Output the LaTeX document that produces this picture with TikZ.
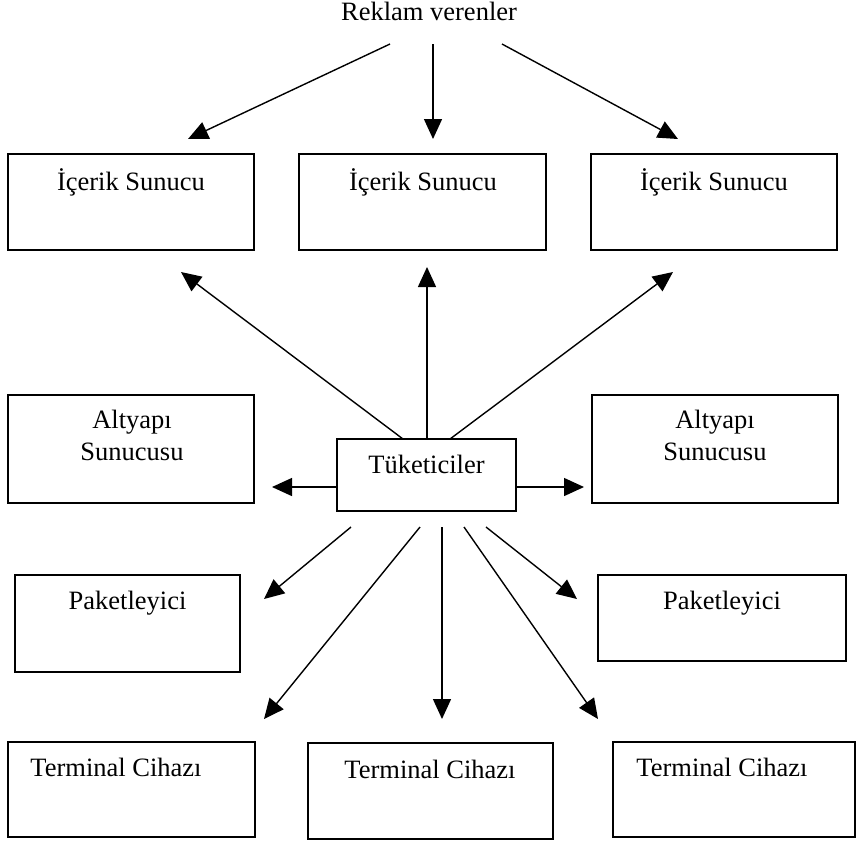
\documentclass[tikz,border=0pt]{standalone}
\usepackage{fontspec}
\setmainfont{Liberation Serif}
\usetikzlibrary{arrows.meta, positioning}

\begin{document}
\begin{tikzpicture}[x=0.5pt, y=-0.5pt,
    kutu/.style={draw, line width=1pt, inner sep=0pt},
    yazi/.style={font=\fontsize{13.25}{16}\selectfont, inner sep=0pt, anchor=base},
    ok/.style={-{Triangle[length=10pt, width=9pt]}, line width=0.7pt}]
    \useasboundingbox (0,0) rectangle (856,843);

    % Reklam verenler
    \node[yazi] (reklam) at (429,20) {Reklam verenler};

    % Icerik sunucular
    \node[kutu, minimum width=123pt, minimum height=48pt] (is1) at (131,202) {};
    \node[yazi] (is1t) at (131,190) {İçerik Sunucu};
    \node[kutu, minimum width=123.5pt, minimum height=48pt] (is2) at (422.5,202) {};
    \node[yazi] (is2t) at (423,190) {İçerik Sunucu};
    \node[kutu, minimum width=123pt, minimum height=48pt] (is3) at (714,202) {};
    \node[yazi] (is3t) at (714,190) {İçerik Sunucu};

    % Altyapi sunucusu
    \node[kutu, minimum width=123pt, minimum height=54pt] (alt1) at (131,449) {};
    \node[yazi, anchor=north, align=center] (alt1t) at (132,410) {Altyapı\\Sunucusu};
    \node[kutu, minimum width=123pt, minimum height=54pt] (alt2) at (715,449) {};
    \node[yazi, anchor=north, align=center] (alt2t) at (715,410) {Altyapı\\Sunucusu};

    % Tuketiciler
    \node[kutu, minimum width=89.5pt, minimum height=36pt] (tuk) at (426.5,475) {};
    \node[yazi] (tukt) at (426.5,473) {Tüketiciler};

    % Paketleyici
    \node[kutu, minimum width=112.5pt, minimum height=48.5pt] (pak1) at (127.5,623.5) {};
    \node[yazi] (pak1t) at (127.5,609) {Paketleyici};
    \node[kutu, minimum width=124pt, minimum height=43pt] (pak2) at (722,618) {};
    \node[yazi] (pak2t) at (722,609) {Paketleyici};

    % Terminal cihazi
    \node[kutu, minimum width=123.5pt, minimum height=47.5pt] (ter1) at (131.5,789.5) {};
    \node[yazi] (ter1t) at (116,776) {Terminal Cihazı};
    \node[kutu, minimum width=122.5pt, minimum height=48pt] (ter2) at (430.5,791) {};
    \node[yazi] (ter2t) at (430,778) {Terminal Cihazı};
    \node[kutu, minimum width=121pt, minimum height=47.5pt] (ter3) at (734,789.5) {};
    \node[yazi] (ter3t) at (722,776) {Terminal Cihazı};

    % Ok uclari
    \coordinate (r1s) at (390,44);  \coordinate (r1e) at (188,139);
    \coordinate (r2s) at (433,44);  \coordinate (r2e) at (433,139);
    \coordinate (r3s) at (502,44);  \coordinate (r3e) at (678,139);
    \coordinate (u1s) at (403,439); \coordinate (u1e) at (181,272);
    \coordinate (u2s) at (427,439); \coordinate (u2e) at (427,267);
    \coordinate (u3s) at (450,439); \coordinate (u3e) at (673,272);
    \coordinate (h1s) at (337,487); \coordinate (h1e) at (272,487);
    \coordinate (h2s) at (516,487); \coordinate (h2e) at (584,487);
    \coordinate (d1s) at (351,527); \coordinate (d1e) at (264,599);
    \coordinate (d2s) at (420,527); \coordinate (d2e) at (264,719);
    \coordinate (d3s) at (442,527); \coordinate (d3e) at (442,719);
    \coordinate (d4s) at (464,527); \coordinate (d4e) at (598,719);
    \coordinate (d5s) at (486,527); \coordinate (d5e) at (577,599);

    % Oklar
    \foreach \a in {r1,r2,r3,u1,u2,u3,h1,h2,d1,d2,d3,d4,d5}
        \draw[ok] (\a s) -- (\a e);

\end{tikzpicture}
\end{document}
